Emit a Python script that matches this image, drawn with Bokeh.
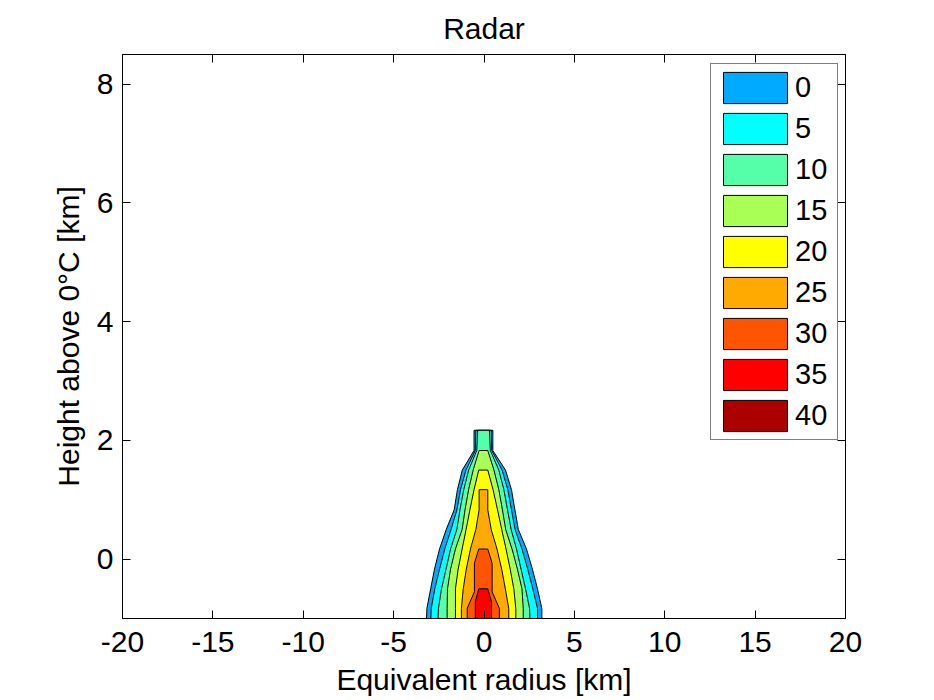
from bokeh.plotting import figure
from bokeh.models import LinearAxis, FixedTicker, Legend, LegendItem, ColumnDataSource
from bokeh.embed import file_html
from bokeh.resources import INLINE

# ---- data ----
levels = [0, 5, 10, 15, 20, 25, 30, 35, 40]
colors = ["#00AAFF", "#00FFFF", "#55FFAA", "#AAFF55", "#FFFF00",
          "#FFAA00", "#FF5500", "#FF0000", "#AA0000"]

x_ticks = [-20, -15, -10, -5, 0, 5, 10, 15, 20]
y_ticks = [0, 2, 4, 6, 8]

# boundary of each filled level: heights and left/right radius (km)
y0 = [-1.0, -0.83, -0.5, -0.17, 0.17, 0.5, 0.83, 1.17, 1.5, 1.83, 2.17]
xl0 = [-3.18, -3.16, -2.95, -2.74, -2.46, -2.09, -1.65, -1.47, -1.20, -0.55, -0.55]
xr0 = [3.20, 3.20, 2.96, 2.68, 2.35, 1.90, 1.71, 1.52, 1.19, 0.49, 0.49]

y5 = [-1.0, -0.83, -0.5, -0.17, 0.17, 0.5, 0.83, 1.17, 1.5, 1.83, 2.17]
xl5 = [-2.94, -2.92, -2.72, -2.46, -2.17, -1.82, -1.50, -1.30, -1.00, -0.48, -0.45]
xr5 = [2.96, 2.96, 2.70, 2.42, 2.10, 1.72, 1.52, 1.32, 1.00, 0.43, 0.40]

y10 = [-1.0, -0.83, -0.5, -0.17, 0.17, 0.5, 0.83, 1.17, 1.5, 1.83, 2.17]
xl10 = [-2.54, -2.52, -2.35, -2.10, -1.85, -1.50, -1.33, -1.12, -0.85, -0.40, -0.35]
xr10 = [2.54, 2.52, 2.30, 2.05, 1.80, 1.50, 1.30, 1.10, 0.82, 0.35, 0.30]

y15 = [-1.0, -0.83, -0.5, -0.17, 0.17, 0.5, 0.83, 1.17, 1.5, 1.83]
xl15 = [-2.04, -2.04, -2.02, -1.85, -1.58, -1.21, -1.05, -0.85, -0.60, -0.27]
xr15 = [2.17, 2.17, 2.10, 1.85, 1.55, 1.20, 1.02, 0.82, 0.55, 0.21]

y20 = [-1.0, -0.83, -0.5, -0.17, 0.17, 0.5, 0.83, 1.17, 1.5]
xl20 = [-1.58, -1.58, -1.58, -1.43, -1.21, -0.99, -0.78, -0.55, -0.29]
xr20 = [1.76, 1.76, 1.65, 1.45, 1.22, 0.98, 0.75, 0.50, 0.21]

y25 = [-1.0, -0.83, -0.5, -0.17, 0.17, 0.5, 0.83, 1.17]
xl25 = [-1.25, -1.25, -1.15, -0.98, -0.75, -0.45, -0.27, -0.27]
xr25 = [1.37, 1.37, 1.18, 0.98, 0.72, 0.40, 0.21, 0.21]

y30 = [-1.0, -0.83, -0.55, -0.07, 0.17]
xl30 = [-0.93, -0.93, -0.53, -0.53, -0.29]
xr30 = [0.85, 0.85, 0.45, 0.45, 0.21]

y35 = [-1.0, -0.72, -0.5]
xl35 = [-0.48, -0.48, -0.29]
xr35 = [0.42, 0.42, 0.21]

# the 40 dBZ level is not reached: it only appears in the legend
bounds = [(y0, xl0, xr0), (y5, xl5, xr5), (y10, xl10, xr10), (y15, xl15, xr15),
          (y20, xl20, xr20), (y25, xl25, xr25), (y30, xl30, xr30),
          (y35, xl35, xr35)]

FONT = "Liberation Sans"
FS = "30px"

p = figure(width=930, height=698, x_range=(-20, 20), y_range=(-1, 8.5),
           output_backend="svg", toolbar_location=None,
           min_border_left=122, min_border_right=85,
           min_border_top=52, min_border_bottom=80)

p.title.text = "Radar"
p.title.align = "center"
p.title.text_font = FONT
p.title.text_font_size = FS
p.title.text_font_style = "normal"
p.title.text_color = "black"
p.title.standoff = 19

p.xgrid.visible = False
p.ygrid.visible = False
p.outline_line_color = "black"
p.outline_line_width = 1
p.background_fill_color = "white"
p.border_fill_color = "white"

items = []
last = None
for lev, col, (yy, xl, xr) in zip(levels, colors, bounds):
    xs = list(xl) + list(reversed(xr))
    ys = list(yy) + list(reversed(yy))
    src = ColumnDataSource(dict(x=xs, y=ys))
    r = p.patch("x", "y", source=src, fill_color=col, line_color="black",
                line_width=1)
    items.append(LegendItem(label=str(lev), renderers=[r]))
    last = src

# legend proxy for the unreached top level (hidden in the plot area)
r40 = p.patch("x", "y", source=last, fill_color=colors[-1], line_color="black",
              line_width=1, visible=False)
items.append(LegendItem(label=str(levels[-1]), renderers=[r40]))


def style_axis(ax, ticks, labels=True):
    ax.ticker = FixedTicker(ticks=ticks)
    ax.axis_line_color = "black"
    ax.major_tick_line_color = "black"
    ax.major_tick_in = 8
    ax.major_tick_out = 0
    ax.minor_tick_line_color = None
    ax.major_label_text_font = FONT
    ax.major_label_text_color = "black"
    ax.major_label_text_font_size = FS
    ax.axis_label_text_font = FONT
    ax.axis_label_text_font_style = "normal"
    ax.axis_label_text_color = "black"
    ax.axis_label_text_font_size = FS
    if labels:
        ax.major_label_overrides = {t: str(t) for t in ticks}
    else:
        ax.major_label_overrides = {t: "" for t in ticks}
        ax.major_label_standoff = 0


style_axis(p.xaxis[0], x_ticks)
style_axis(p.yaxis[0], y_ticks)
p.xaxis.axis_label = "Equivalent radius [km]"
p.yaxis.axis_label = "Height above 0°C [km]"
p.xaxis.major_label_standoff = 13
p.yaxis.major_label_standoff = 9
p.xaxis.axis_label_standoff = 8
p.yaxis.axis_label_standoff = 9

top_ax = LinearAxis()
right_ax = LinearAxis()
style_axis(top_ax, x_ticks, labels=False)
style_axis(right_ax, y_ticks, labels=False)
p.add_layout(top_ax, "above")
p.add_layout(right_ax, "right")

legend = Legend(items=items, location=(588, 178))
legend.label_text_font = FONT
legend.label_text_font_size = "29px"
legend.label_text_color = "black"
legend.glyph_width = 80
legend.glyph_height = 39
legend.label_height = 31
legend.label_width = 38
legend.spacing = 2
legend.padding = 4
legend.label_standoff = 0
legend.border_line_color = "black"
legend.border_line_width = 1
legend.background_fill_alpha = 1
legend.margin = 0
legend.click_policy = "none"
legend.inactive_fill_alpha = 0
p.add_layout(legend)

open("out.html", "w").write(file_html(p, INLINE))
